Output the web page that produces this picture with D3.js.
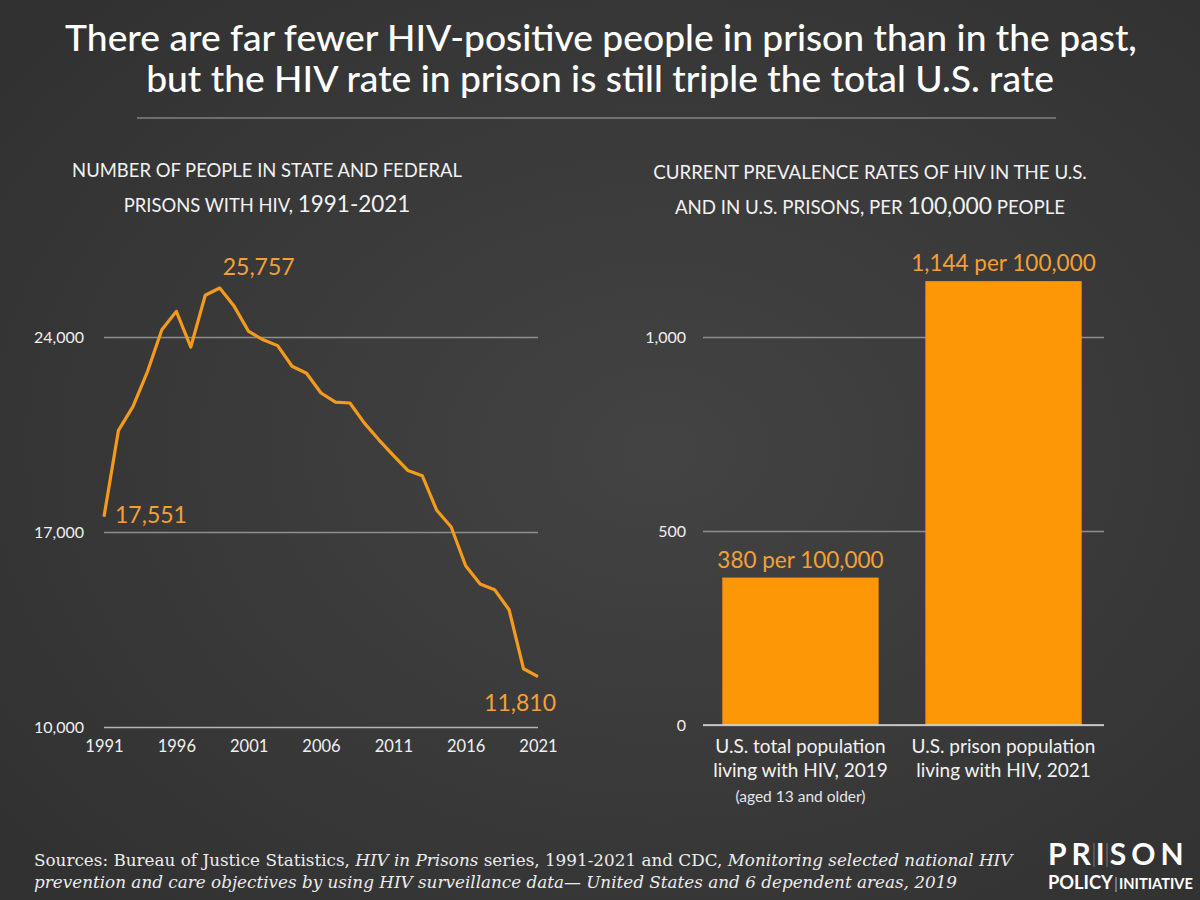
<!DOCTYPE html>
<html>
<head>
<meta charset="utf-8">
<script src="https://cdn.jsdelivr.net/npm/d3@7"></script>
<style>
  body { margin: 0; background: #3b3b3b; }
  svg { display: block; }
</style>
</head>
<body>
<svg id="chart" width="1200" height="900"></svg>
<script>
// data for left chart: HIV-positive people in state + federal prisons
var years = [1991, 1992, 1993, 1994, 1995, 1996, 1997, 1998, 1999, 2000,
  2001, 2002, 2003, 2004, 2005, 2006, 2007, 2008, 2009, 2010,
  2011, 2012, 2013, 2014, 2015, 2016, 2017, 2018, 2019, 2020, 2021];
var hivCounts = [17551, 20650, 21500, 22750, 24260, 24920, 23640, 25500, 25757, 25100,
  24200, 23900, 23690, 22950, 22700, 21990, 21660, 21630, 20910, 20310,
  19750, 19210, 19020, 17780, 17180, 15790, 15130, 14930, 14210, 12090, 11810];
var countTicks = [10000, 17000, 24000];
var yearTicks = [1991, 1996, 2001, 2006, 2011, 2016, 2021];
// the three values written on the line
var labelledYears = [1991, 1999, 2021];

// data for right chart: prevalence per 100,000
var groups = ["total", "prison"];
var rates = [380, 1144];
var rateLabels = ["380 per 100,000", "1,144 per 100,000"];
var groupLabels = [
  ["U.S. total population", "living with HIV, 2019"],
  ["U.S. prison population", "living with HIV, 2021"]
];
var groupNotes = ["(aged 13 and older)", ""];
var rateTicks = [0, 500, 1000];

var ORANGE = "#fd9706";
var LINE = "#f59b1c";
var TEXTORANGE = "#f3a136";
var SANS = "Lato, 'Open Sans', sans-serif";
var SERIF = "Georgia, 'DejaVu Serif', 'Liberation Serif', serif";

var svg = d3.select("#chart");

// dark background with a soft vignette
var defs = svg.append("defs");
var grad = defs.append("radialGradient").attr("id", "bg")
  .attr("cx", "55%").attr("cy", "50%").attr("r", "70%");
grad.append("stop").attr("offset", "0%").attr("stop-color", "#444344");
grad.append("stop").attr("offset", "100%").attr("stop-color", "#313131");
svg.append("rect").attr("width", 1200).attr("height", 900).attr("fill", "url(#bg)");

// scale the font-size of a text so it spans a given width
function fitWidth(sel, width) {
  var fs = parseFloat(sel.attr("font-size"));
  var w = sel.node().getComputedTextLength();
  sel.attr("font-size", fs * width / w);
  return fs * width / w;
}

// ---- main title ----
var t1 = svg.append("text").attr("x", 601).attr("y", 51)
  .attr("text-anchor", "middle").attr("fill", "#fff")
  .attr("font-family", SANS).attr("font-weight", 500).attr("font-size", 36)
  .text("There are far fewer HIV-positive people in prison than in the past,");
var titleSize = fitWidth(t1, 1072);
svg.append("text").attr("x", 600).attr("y", 92)
  .attr("text-anchor", "middle").attr("fill", "#fff")
  .attr("font-family", SANS).attr("font-weight", 500).attr("font-size", titleSize)
  .text("but the HIV rate in prison is still triple the total U.S. rate");

svg.append("line").attr("x1", 137).attr("x2", 1056).attr("y1", 118).attr("y2", 118)
  .attr("stroke", "#a8a8a8").attr("stroke-width", 1.2);

// panel titles: caps with the numbers set a little larger
function panelTitle(cx, y1, y2, line1, parts2, width) {
  var a = svg.append("text").attr("x", cx).attr("y", y1)
    .attr("text-anchor", "middle").attr("fill", "#f2f2f2")
    .attr("font-family", SANS).attr("font-size", 20)
    .text(line1);
  var fs = fitWidth(a, width);
  var b = svg.append("text").attr("x", cx).attr("y", y2)
    .attr("text-anchor", "middle").attr("fill", "#f2f2f2")
    .attr("font-family", SANS).attr("font-size", fs);
  parts2.forEach(function(p) {
    b.append("tspan").attr("font-size", p[1] ? "1.22em" : "1em").text(p[0]);
  });
}
panelTitle(267, 177, 212, "NUMBER OF PEOPLE IN STATE AND FEDERAL",
  [["PRISONS WITH HIV, ", false], ["1991-2021", true]], 390);
panelTitle(870, 179, 214, "CURRENT PREVALENCE RATES OF HIV IN THE U.S.",
  [["AND IN U.S. PRISONS, PER ", false], ["100,000", true], [" PEOPLE", false]], 434);

// ---- left: line chart ----
var x = d3.scaleLinear().domain([1991, 2021]).range([104, 538]);
var y = d3.scaleLinear().domain([10000, 24000]).range([727, 337]);

var yAxis = svg.append("g").attr("transform", "translate(104,0)")
  .call(d3.axisLeft(y).tickValues(countTicks).tickSize(-434).tickPadding(20)
    .tickFormat(d3.format(",")));
yAxis.select(".domain").remove();
yAxis.selectAll(".tick line").attr("stroke", "#8e8e8e").attr("stroke-width", 1.4);
yAxis.selectAll(".tick line").filter(function(d) { return d === 10000; }).attr("stroke", "#b5b5b5");
yAxis.selectAll(".tick text").attr("fill", "#f0f0f0").attr("font-family", SANS).attr("font-size", 16);

var xAxis = svg.append("g").attr("transform", "translate(0,727)")
  .call(d3.axisBottom(x).tickValues(yearTicks).tickSize(0).tickPadding(13)
    .tickFormat(d3.format("d")));
xAxis.select(".domain").remove();
xAxis.selectAll(".tick text").attr("fill", "#f0f0f0").attr("font-family", SANS).attr("font-size", 16.5);

var line = d3.line().x(function(d, i) { return x(years[i]); }).y(function(d) { return y(d); });
svg.append("path").datum(hivCounts).attr("d", line)
  .attr("fill", "none").attr("stroke", LINE).attr("stroke-width", 3.2)
  .attr("stroke-linejoin", "round");

// value callouts
var callDx = [11, 3, 18];
var callDy = [6, -13, 34];
var callAnchor = ["start", "start", "end"];
labelledYears.forEach(function(yr, k) {
  var i = years.indexOf(yr);
  svg.append("text")
    .attr("x", x(yr) + callDx[k]).attr("y", y(hivCounts[i]) + callDy[k])
    .attr("text-anchor", callAnchor[k])
    .attr("fill", TEXTORANGE).attr("font-family", SANS).attr("font-size", 23)
    .text(d3.format(",")(hivCounts[i]));
});

// ---- right: bar chart ----
var xb = d3.scaleBand().domain(groups).range([702, 1102]).paddingInner(0.23).paddingOuter(0.1);
var yb = d3.scaleLinear().domain([0, 1000]).range([725, 337]);

var ybAxis = svg.append("g").attr("transform", "translate(703,0)")
  .call(d3.axisLeft(yb).tickValues(rateTicks).tickSize(-401).tickPadding(17)
    .tickFormat(d3.format(",")));
ybAxis.select(".domain").remove();
ybAxis.selectAll(".tick line").attr("stroke", "#8e8e8e").attr("stroke-width", 1.4);
ybAxis.selectAll(".tick text").attr("fill", "#f0f0f0").attr("font-family", SANS).attr("font-size", 16);

svg.selectAll(".bar").data(rates).enter().append("rect")
  .attr("class", "bar")
  .attr("x", function(d, i) { return xb(groups[i]); })
  .attr("width", xb.bandwidth())
  .attr("y", function(d) { return yb(d); })
  .attr("height", function(d) { return yb(0) - yb(d); })
  .attr("fill", ORANGE);

// baseline sits over the bars
svg.append("line").attr("x1", 703).attr("x2", 1104).attr("y1", yb(0)).attr("y2", yb(0))
  .attr("stroke", "#d8d8d8").attr("stroke-width", 1.4);

svg.selectAll(".rate-label").data(rates).enter().append("text")
  .attr("class", "rate-label")
  .attr("x", function(d, i) { return xb(groups[i]) + xb.bandwidth() / 2; })
  .attr("y", function(d) { return yb(d) - 10; })
  .attr("text-anchor", "middle").attr("fill", TEXTORANGE)
  .attr("font-family", SANS).attr("font-size", 22.5)
  .text(function(d, i) { return rateLabels[i]; });

groups.forEach(function(g, i) {
  var cx = xb(g) + xb.bandwidth() / 2;
  var t = svg.append("text").attr("text-anchor", "middle").attr("fill", "#f2f2f2")
    .attr("font-family", SANS).attr("font-size", 19);
  groupLabels[i].forEach(function(s, j) {
    t.append("tspan").attr("x", cx).attr("y", 753 + j * 24).text(s);
  });
  if (groupNotes[i]) {
    svg.append("text").attr("x", cx).attr("y", 802).attr("text-anchor", "middle")
      .attr("fill", "#e6e6e6").attr("font-family", SANS).attr("font-size", 15.5)
      .text(groupNotes[i]);
  }
});

// ---- sources ----
var src = svg.append("text").attr("x", 34).attr("y", 866).attr("fill", "#ececec")
  .attr("font-family", SERIF).attr("font-size", 15);
src.append("tspan").text("Sources: Bureau of Justice Statistics, ");
src.append("tspan").attr("font-style", "italic").text("HIV in Prisons");
src.append("tspan").text(" series, 1991-2021 and CDC, ");
src.append("tspan").attr("font-style", "italic").text("Monitoring selected national HIV");
var srcSize = fitWidth(src, 979);
svg.append("text").attr("x", 34).attr("y", 888).attr("fill", "#ececec")
  .attr("font-family", SERIF).attr("font-size", srcSize).attr("font-style", "italic")
  .text("prevention and care objectives by using HIV surveillance data\u2014 United States and 6 dependent areas, 2019");

// ---- logo ----
var logo = svg.append("g").attr("fill", "#fff").attr("font-family", SANS).attr("font-weight", 700);
logo.append("text").attr("x", 1048).attr("y", 865)
  .attr("font-size", 30).attr("letter-spacing", 5).text("PRISON");
var q1 = logo.append("text").attr("x", 1048).attr("y", 889)
  .attr("font-size", 12.5).text("POLICY");
fitWidth(q1, 65);
var q2 = logo.append("text").attr("x", 1119).attr("y", 889)
  .attr("font-size", 12.5).text("INITIATIVE");
fitWidth(q2, 74);
logo.append("line").attr("x1", 1116).attr("x2", 1116).attr("y1", 877).attr("y2", 892)
  .attr("stroke", "#bbb").attr("stroke-width", 1);
// faint dividers inside the wordmark
[1094, 1107].forEach(function(lx) {
  logo.append("line").attr("x1", lx).attr("x2", lx).attr("y1", 843).attr("y2", 867)
    .attr("stroke", "#8a8a8a").attr("stroke-width", 0.8);
});
</script>
</body>
</html>
